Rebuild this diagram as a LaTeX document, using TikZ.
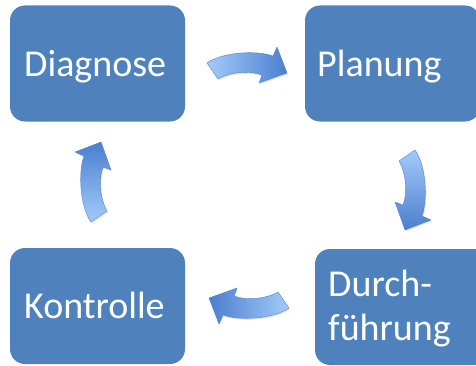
\documentclass[tikz,border=0pt]{standalone}
\usepackage{fontspec}
\setmainfont{Carlito}
\usetikzlibrary{shadows}

\definecolor{boxblue}{HTML}{4F81BD}
\definecolor{arrowlight}{HTML}{A4CAF9}
\definecolor{arrowdark}{HTML}{4A7FCF}
\definecolor{arrowline}{HTML}{5484C6}

\tikzset{
  stage/.style={fill=boxblue, rounded corners=15pt, minimum width=175pt, minimum height=116pt, inner sep=0pt},
  stagetext/.style={text=white, font=\fontsize{38}{44}\selectfont, inner sep=0pt, anchor=base west, align=left},
  cyclearrow/.style={draw=arrowline, line width=0.4pt, line join=round,
    drop shadow={shadow xshift=1pt, shadow yshift=-1.5pt, opacity=0.2}}
}

% one curved block arrow, pointing right, centred at the origin
\newcommand{\arrowshape}{(-40,3) .. controls (-25,14) and (10,16) .. (26,10) -- (30,19) -- (40,-7) -- (12,-17) -- (15,-9) .. controls (5,-5) and (-15,-5) .. (-29,-13) -- cycle}

\begin{document}
\begin{tikzpicture}[x=1pt,y=1pt]
\useasboundingbox (0,0) rectangle (476,365);
\clip (0,0) rectangle (476,365);

% the four stages
\node[stage] (diagnose) at (97.5,301.5) {};
\node[stage] (planung) at (392.5,301.5) {};
\node[stage] (durchfuehrung) at (402.5,58) {};
\node[stage] (kontrolle) at (97.5,59) {};

\node[stagetext] (diagnose-text) at (24,288) {Diagnose};
\node[stagetext] (planung-text) at (317,288) {Planung};
\node[stagetext] (durchfuehrung-text) at (328,25) {Durch-\\führung};
\node[stagetext] (kontrolle-text) at (24,47) {Kontrolle};

% arrows of the cycle
\begin{scope}[shift={(247,299)}]
  \draw[cyclearrow, left color=arrowlight, right color=arrowdark] \arrowshape;
\end{scope}
\begin{scope}[shift={(412,175)}, rotate=-90]
  \draw[cyclearrow, top color=arrowlight, bottom color=arrowdark] \arrowshape;
\end{scope}
\begin{scope}[shift={(249,60)}, rotate=180]
  \draw[cyclearrow, left color=arrowdark, right color=arrowlight] \arrowshape;
\end{scope}
\begin{scope}[shift={(94,183)}, rotate=90]
  \draw[cyclearrow, bottom color=arrowlight, top color=arrowdark] \arrowshape;
\end{scope}
\end{tikzpicture}
\end{document}
